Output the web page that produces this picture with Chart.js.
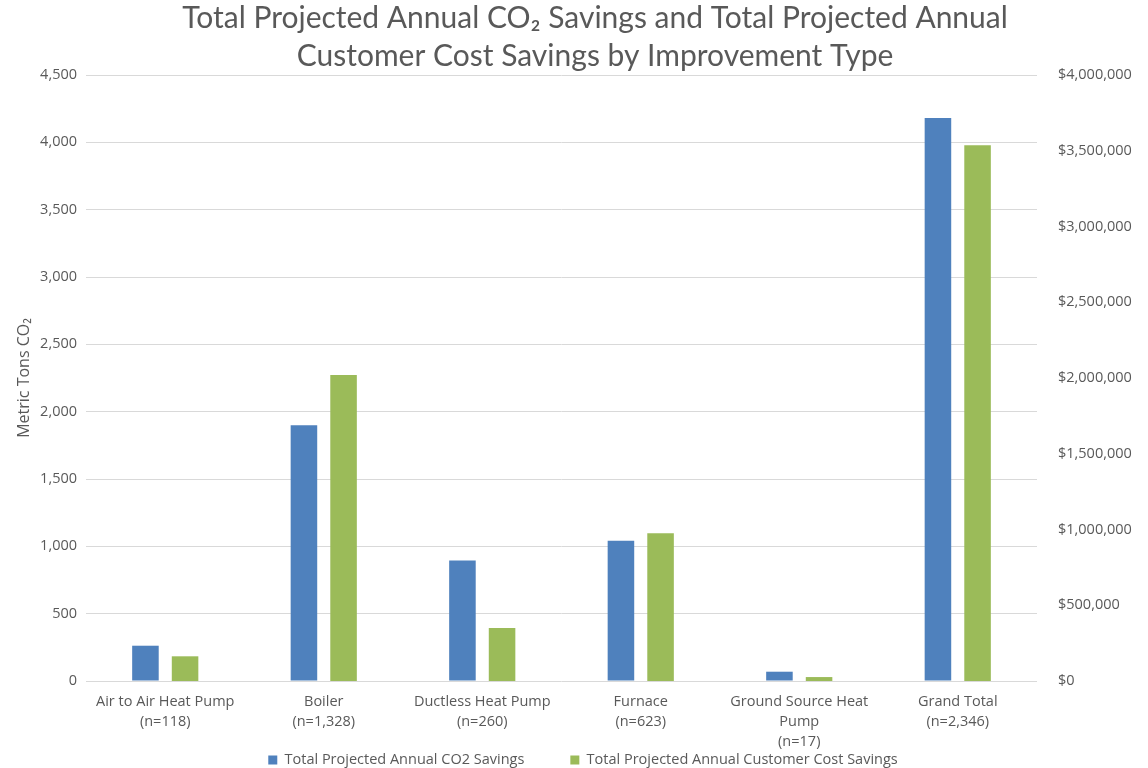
<!DOCTYPE html>
<html>
<head>
<meta charset="utf-8">
<script src="https://cdn.jsdelivr.net/npm/chart.js@4.4.1/dist/chart.umd.min.js"></script>
<style>
  html, body { margin: 0; padding: 0; background: #ffffff; }
  #wrap { width: 1148px; height: 768px; position: relative; }
</style>
</head>
<body>
<div id="wrap"><canvas id="c" width="1148" height="768"></canvas></div>
<script>
// ---- data ----
const categories = [
  ["Air to Air Heat Pump", "(n=118)"],
  ["Boiler", "(n=1,328)"],
  ["Ductless Heat Pump", "(n=260)"],
  ["Furnace", "(n=623)"],
  ["Ground Source Heat", "Pump", "(n=17)"],
  ["Grand Total", "(n=2,346)"]
];
const seriesNames = ["Total Projected Annual CO2 Savings", "Total Projected Annual Customer Cost Savings"];
const co2Savings = [262, 1900, 895, 1042, 69, 4180];
const costSavings = [163000, 2020000, 350000, 975000, 26000, 3536000];
const titleLines = ["Total Projected Annual CO\u2082 Savings and Total Projected Annual", "Customer Cost Savings by Improvement Type"];
const leftAxisTitle = "Metric Tons CO\u2082";
const leftTicks = { min: 0, max: 4500, step: 500 };
const rightTicks = { min: 0, max: 4000000, step: 500000 };

const TXT = "#595959";
const FONT = "'Open Sans', 'DejaVu Sans', sans-serif";
const TICK_SIZE = 14.5;
const LEGEND_GAP = 46;
const LEGEND_ROW_CENTER = 760;
const LEGEND_SLOT = 16;      // vertical space reserved for the legend row
const XAXIS_HEIGHT = 71;     // 11px padding + 3 label lines of 20px
const TITLE_SHIFT = 21;      // title centre sits a little right of canvas centre
const LEGEND_SHIFT = 9;

// keeps the legend compact vertically while its item gap stays wide
const placement = {
  id: "placement",
  beforeLayout(chart) {
    const lg = chart.legend;
    if (lg && !lg.__wrapped) {
      const fit = lg.fit.bind(lg);
      lg.fit = function () { fit(); this.height = LEGEND_SLOT; };
      lg.__wrapped = true;
    }
  },
  afterLayout(chart) {
    const lg = chart.legend;
    if (lg) {
      lg.top = LEGEND_ROW_CENTER - LEGEND_GAP - TICK_SIZE / 2;
      lg.height = LEGEND_GAP + TICK_SIZE + 12;
      lg.bottom = lg.top + lg.height;
      lg.left += 2 * LEGEND_SHIFT;
    }
    const tb = chart.titleBlock;
    if (tb) { tb.left += 2 * TITLE_SHIFT; }
  }
};

new Chart(document.getElementById("c"), {
  type: "bar",
  data: {
    labels: categories,
    datasets: [
      { label: seriesNames[0], data: co2Savings, yAxisID: "y", backgroundColor: "#4F81BD", borderWidth: 0,
        categoryPercentage: 0.5, barPercentage: 0.67 },
      { label: seriesNames[1], data: costSavings, yAxisID: "y1", backgroundColor: "#9BBB59", borderWidth: 0,
        categoryPercentage: 0.5, barPercentage: 0.67 }
    ]
  },
  plugins: [placement],
  options: {
    responsive: false,
    animation: false,
    devicePixelRatio: 1,
    layout: { padding: { left: 0, right: 0, top: 0, bottom: 0 } },
    plugins: {
      title: {
        display: true,
        text: titleLines,
        color: TXT,
        font: { family: "Lato, 'Open Sans', sans-serif", size: 30, weight: "normal", lineHeight: 37.5 / 30 },
        padding: { top: 0, bottom: 0 }
      },
      legend: {
        display: true,
        position: "bottom",
        labels: {
          color: TXT,
          font: { family: FONT, size: TICK_SIZE },
          boxWidth: 9,
          boxHeight: 9,
          padding: LEGEND_GAP
        }
      },
      tooltip: { enabled: false }
    },
    scales: {
      x: {
        grid: { display: false, drawTicks: false },
        border: { display: false },
        ticks: { color: TXT, font: { family: FONT, size: TICK_SIZE, lineHeight: 20 / TICK_SIZE }, padding: 11, maxRotation: 0, autoSkip: false },
        afterFit: (s) => { s.height = XAXIS_HEIGHT; }
      },
      y: {
        position: "left",
        min: leftTicks.min, max: leftTicks.max,
        grid: { color: "#D9D9D9", lineWidth: 1, drawTicks: false },
        border: { display: false },
        ticks: {
          stepSize: leftTicks.step, color: TXT, padding: 9,
          font: { family: FONT, size: TICK_SIZE },
          callback: (v) => v.toLocaleString("en-US")
        },
        title: { display: true, text: leftAxisTitle, color: TXT, font: { family: FONT, size: 16, lineHeight: 1.2 }, padding: { top: 15, bottom: 0 } },
        afterFit: (s) => { s.width = 86; }
      },
      y1: {
        position: "right",
        min: rightTicks.min, max: rightTicks.max,
        grid: { display: false, drawTicks: false },
        border: { display: false },
        ticks: {
          stepSize: rightTicks.step, color: TXT, padding: 21,
          font: { family: FONT, size: TICK_SIZE },
          callback: (v) => "$" + v.toLocaleString("en-US")
        },
        afterFit: (s) => { s.width = 111; }
      }
    }
  }
});
</script>
</body>
</html>
